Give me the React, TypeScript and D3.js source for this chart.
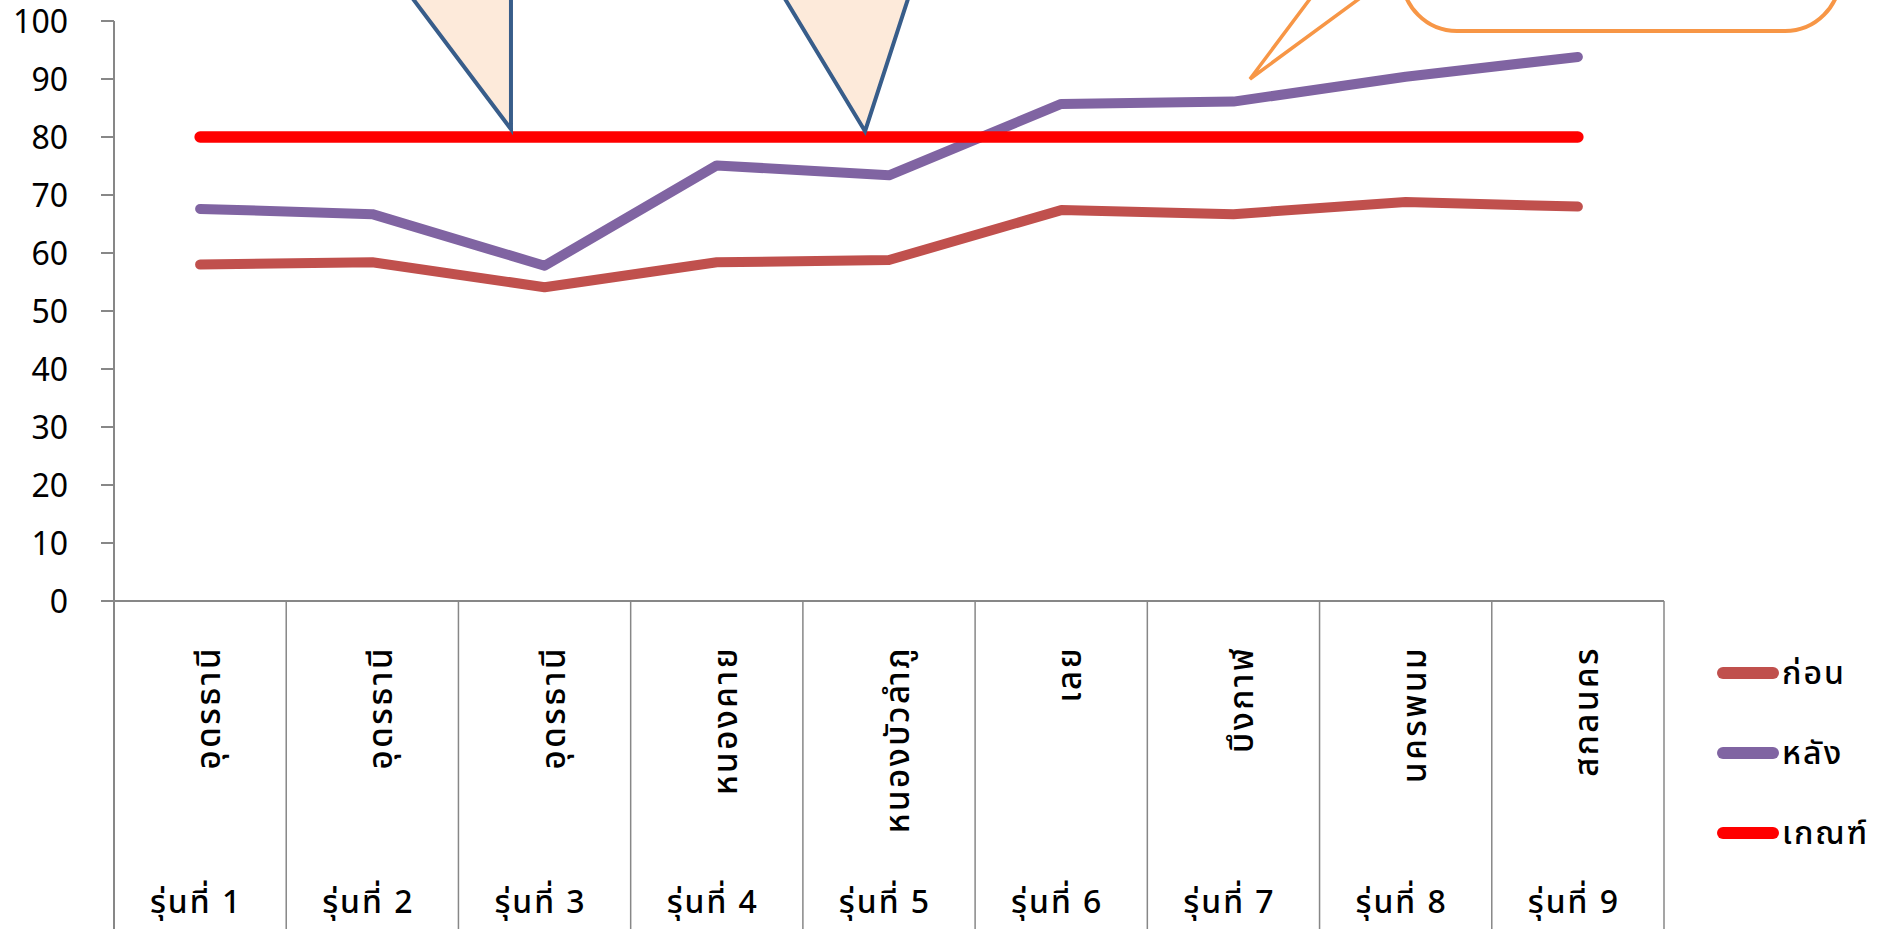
import * as React from 'react'
import * as d3 from 'd3'

const provinces = ['อุดรธานี', 'อุดรธานี', 'อุดรธานี', 'หนองคาย', 'หนองบัวลำภู', 'เลย', 'บึงกาฬ', 'นครพนม', 'สกลนคร']
const batches = ['รุ่นที่ 1', 'รุ่นที่ 2', 'รุ่นที่ 3', 'รุ่นที่ 4', 'รุ่นที่ 5', 'รุ่นที่ 6', 'รุ่นที่ 7', 'รุ่นที่ 8', 'รุ่นที่ 9']
const before = [58.0, 58.4, 54.1, 58.4, 58.8, 67.4, 66.7, 68.8, 68.0]
const after = [67.6, 66.7, 57.8, 75.1, 73.4, 85.7, 86.1, 90.4, 93.8]
const criterion = [80, 80, 80, 80, 80, 80, 80, 80, 80]
const yTicks = [0, 10, 20, 30, 40, 50, 60, 70, 80, 90, 100]

const seriesNames = ['ก่อน', 'หลัง', 'เกณฑ์']
const seriesColors = ['#C0504D', '#8064A2', '#FF0000']

// callouts, in category units (x) and value units (y)
const blueCallouts = [
  [[1.63, 108], [2.305, 81.35], [2.305, 108]],
  [[3.811, 108], [4.361, 81.0], [4.656, 108]],
]
const orangeWedge = [[7.05, 108], [6.596, 90.0], [7.421, 108]]
const orangeBox = { x0: 7.479, x1: 10.022, top: 140, bottom: 98.27 }

const W = 1884
const H = 929
const left = 114
const right = 1664
const top = 21
const bottom = 601

const font = '"Noto Sans Thai", "Noto Sans", "DejaVu Sans", sans-serif'

const App = () => {
  const x = d3.scaleBand<number>().domain(d3.range(provinces.length)).range([left, right]).padding(0)
  const xl = d3.scaleLinear().domain([0, provinces.length]).range([left, right])
  const y = d3.scaleLinear().domain([0, 100]).range([bottom, top])
  const cx = (i: number) => (x(i) as number) + x.bandwidth() / 2

  const line = d3.line<number>().x((d, i) => cx(i)).y(d => y(d))
  const poly = (pts: number[][]) => pts.map(p => `${xl(p[0])},${y(p[1])}`).join(' ')

  const series = [before, after, criterion]
  const widths = [10, 10, 11.5]
  const axisColor = '#878787'

  return (
    <div style={{ position: 'fixed', left: 0, top: 0, width: W, height: H, background: '#fff' }}>
      <svg width={W} height={H} style={{ display: 'block' }} fontFamily={font}>
        {/* y axis */}
        <line x1={left} x2={left} y1={y(100)} y2={H} stroke={axisColor} strokeWidth={2} />
        {yTicks.map(t => (
          <g key={t}>
            <line x1={left - 13} x2={left} y1={y(t)} y2={y(t)} stroke={axisColor} strokeWidth={2} />
            <text x={68} y={y(t)} dy="0.36em" textAnchor="end" fontSize={32} fill="#000">{t}</text>
          </g>
        ))}
        {/* x axis */}
        <line x1={left} x2={right} y1={bottom} y2={bottom} stroke={axisColor} strokeWidth={2} />
        {d3.range(provinces.length + 1).map(i => (
          <line key={i} x1={xl(i)} x2={xl(i)} y1={bottom} y2={H} stroke={axisColor} strokeWidth={1.5} />
        ))}
        {provinces.map((p, i) => (
          <text key={i} transform={`translate(${cx(i) + 20},646) rotate(-90)`} textAnchor="end" fontSize={33}
            fontWeight={500} letterSpacing={2.5} fill="#000">{p}</text>
        ))}
        {batches.map((b, i) => (
          <text key={i} x={cx(i) - 4} y={913} textAnchor="middle" fontSize={32} fontWeight={500}
            letterSpacing={2} fill="#000">{b}</text>
        ))}
        {/* series */}
        {series.map((s, k) => (
          <path key={k} d={line(s) as string} fill="none" stroke={seriesColors[k]} strokeWidth={widths[k]}
            strokeLinecap="round" strokeLinejoin="round" />
        ))}
        {/* callouts */}
        {blueCallouts.map((c, i) => (
          <polygon key={i} points={poly(c)} fill="#FDEADA" stroke="#385D8A" strokeWidth={4} strokeLinejoin="miter" />
        ))}
        <polygon points={poly(orangeWedge)} fill="#fff" stroke="#F79646" strokeWidth={3.5} />
        <rect x={xl(orangeBox.x0)} y={y(orangeBox.top)} width={xl(orangeBox.x1) - xl(orangeBox.x0)}
          height={y(orangeBox.bottom) - y(orangeBox.top)} rx={55} ry={55} fill="#fff" stroke="#F79646" strokeWidth={4} />
        {/* legend */}
        {seriesNames.map((n, k) => (
          <g key={n} transform={`translate(0,${673 + k * 80})`}>
            <line x1={1723} x2={1773} y1={0} y2={0} stroke={seriesColors[k]} strokeWidth={12} strokeLinecap="round" />
            <text x={1782} y={0} dy="0.35em" fontSize={32} fontWeight={500} letterSpacing={2} fill="#000">{n}</text>
          </g>
        ))}
      </svg>
    </div>
  )
}

export default App
